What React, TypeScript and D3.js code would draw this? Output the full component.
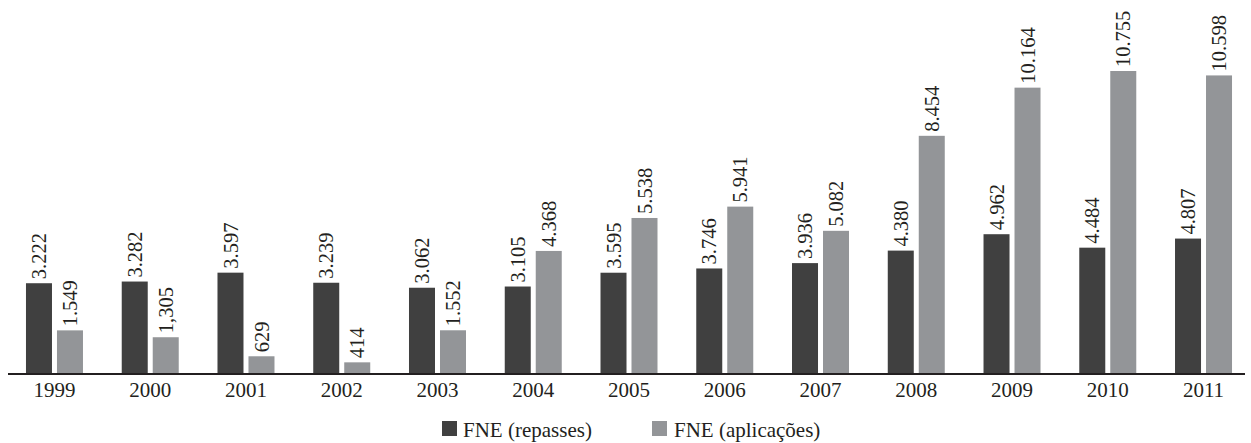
import React from "react";
import * as d3 from "d3";

const years = ["1999","2000","2001","2002","2003","2004","2005","2006","2007","2008","2009","2010","2011"];
const repasses = [3.222,3.282,3.597,3.239,3.062,3.105,3.595,3.746,3.936,4.380,4.962,4.484,4.807];
const aplicacoes = [1.549,1.305,0.629,0.414,1.552,4.368,5.538,5.941,5.082,8.454,10.164,10.755,10.598];
const repassesLabels = ["3.222","3.282","3.597","3.239","3.062","3.105","3.595","3.746","3.936","4.380","4.962","4.484","4.807"];
const aplicacoesLabels = ["1.549","1,305","629","414","1.552","4.368","5.538","5.941","5.082","8.454","10.164","10.755","10.598"];
const seriesNames = ["FNE (repasses)", "FNE (aplicações)"];
const colors = ["#404040", "#939598"];

const W = 1251, H = 443;
const baseY = 374;
const font = "Liberation Serif, DejaVu Serif, Times New Roman";

export default function App() {
  const x0 = d3.scaleBand<string>().domain(years).range([6.6, 1251.4]).paddingInner(0).paddingOuter(0);
  const x1 = d3.scaleBand<string>().domain(seriesNames).range([x0.bandwidth() / 2 - 28.5, x0.bandwidth() / 2 + 28.5]).paddingInner(0.161).paddingOuter(0);
  const y = d3.scaleLinear().domain([0, 10.755]).range([baseY, 71]);
  const data = [repasses, aplicacoes];
  const labels = [repassesLabels, aplicacoesLabels];
  return (
    <svg width={W} height={H} style={{ position: "absolute", left: 0, top: 0, fontFamily: font }}>
      {years.map((yr, i) => (
        <g key={yr} transform={`translate(${x0(yr)},0)`}>
          {seriesNames.map((s, k) => {
            const v = data[k][i];
            const bx = x1(s)!;
            const cx = bx + x1.bandwidth() / 2;
            const top = y(v);
            return (
              <g key={s}>
                <rect x={bx} y={top} width={x1.bandwidth()} height={baseY - top} fill={colors[k]} />
                <text
                  transform={`translate(${cx},${top - 4}) rotate(-90)`}
                  dy="0.35em"
                  fontSize={20.5}
                  fill="#231f20"
                  style={{ fontFamily: font }}
                >{labels[k][i]}</text>
              </g>
            );
          })}
          <text x={x0.bandwidth() / 2} y={397} textAnchor="middle" fontSize={21} fill="#231f20" style={{ fontFamily: font }}>{yr}</text>
        </g>
      ))}
      <line x1={8} x2={1245} y1={baseY} y2={baseY} stroke="#231f20" strokeWidth={2} />
      <g>
        <rect x={442} y={421} width={15} height={15} fill={colors[0]} />
        <text x={463} y={437} fontSize={21} fill="#231f20" style={{ fontFamily: font }}>{seriesNames[0]}</text>
        <rect x={652} y={421} width={15} height={15} fill={colors[1]} />
        <text x={674} y={437} fontSize={21} fill="#231f20" style={{ fontFamily: font }}>{seriesNames[1]}</text>
      </g>
    </svg>
  );
}
